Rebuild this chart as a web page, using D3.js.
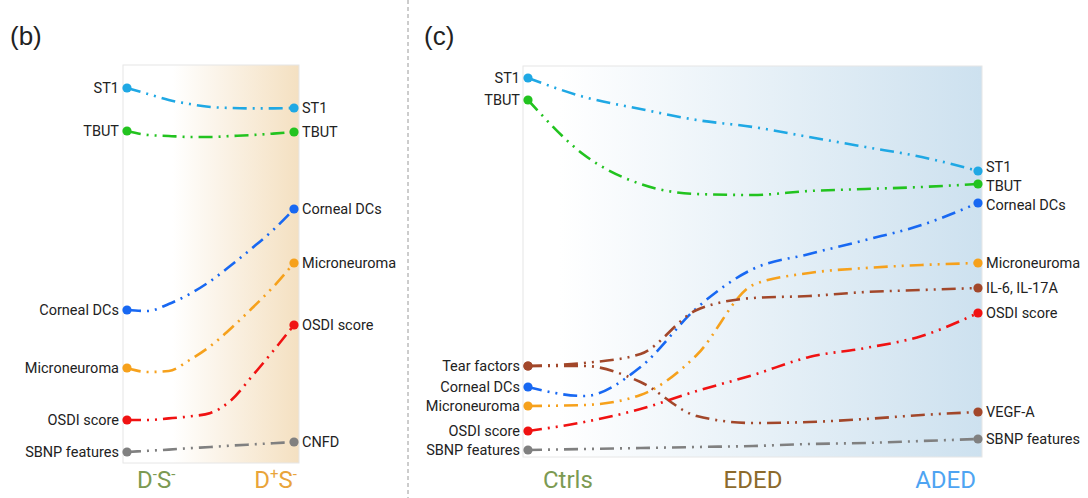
<!DOCTYPE html>
<html>
<head>
<meta charset="utf-8">
<script src="https://cdn.jsdelivr.net/npm/d3@7"></script>
<style>
  body { margin: 0; background: #fff; }
  svg { display: block; font-family: Roboto, "Liberation Sans", Arial, sans-serif; }
</style>
</head>
<body>
<div id="chart"></div>
<script>
// ---- data: relative level (0-100) ----

// panel (b): D-S- -> D+S-
const bSteps = [0, 0.125, 0.25, 0.375, 0.5, 0.625, 0.75, 0.875, 1];
const bStartLabels = ["ST1", "TBUT", "Corneal DCs", "Microneuroma", "OSDI score", "SBNP features"];
const bEndLabels = ["ST1", "TBUT", "Corneal DCs", "Microneuroma", "OSDI score", "CNFD"];
const bST1 = [95.5, 94, 92.5, 91.5, 90.75, 90.5, 90.4, 90.4, 90.5];
const bTBUT = [84.75, 83.75, 83.5, 83.25, 83.25, 83.5, 83.75, 84.1, 84.5];
const bCorneal = [40, 39.75, 41.5, 44, 47.25, 51.25, 55.5, 60, 65.25];
const bMicro = [25.5, 24.5, 24.75, 27.5, 31, 35.5, 40.5, 45.75, 51.75];
const bOSDI = [12.5, 12.5, 12.9, 13.4, 14.25, 17.5, 23.5, 29.75, 36.25];
const bSBNP = [4.5, 4.8, 5.1, 5.45, 5.75, 6.1, 6.4, 6.7, 7];

// panel (c): Ctrls -> EDED -> ADED
const cSteps = [0, 0.125, 0.25, 0.375, 0.5, 0.625, 0.75, 0.875, 1];
const cStartLabels = ["ST1", "TBUT", "Corneal DCs", "Microneuroma", "Tear factors", "", "OSDI score", "SBNP features"];
const cEndLabels = ["ST1", "TBUT", "Corneal DCs", "Microneuroma", "IL-6, IL-17A", "VEGF-A", "OSDI score", "SBNP features"];
const cST1 = [98, 93.25, 90.25, 87.5, 85.75, 83.25, 80.75, 78.25, 74.75];
const cTBUT = [92.5, 78.75, 71.5, 69, 68.75, 69.75, 70.25, 70.75, 71.5];
const cCorneal = [20.75, 18.5, 25.75, 40.5, 50.25, 54, 57.5, 61.25, 66.75];
const cMicro = [16, 16.25, 18.75, 28.75, 46.25, 49.25, 50.5, 51.25, 51.75];
const cIL6 = [26, 26.75, 29, 40, 43, 43.5, 44.5, 45, 45.5];
const cVEGF = [26, 26, 22, 13.5, 11.75, 12, 12.75, 13.75, 14.5];
const cOSDI = [9.75, 12, 15.25, 19.75, 23.75, 28.25, 30.5, 33.5, 39.25];
const cSBNP = [5, 5.25, 5.5, 5.75, 6, 6.5, 6.75, 7.25, 7.75];

const bColors = ["#1fa8e4", "#22c31f", "#1868f2", "#f6a11c", "#f01212", "#808080"];
const cColors = ["#1fa8e4", "#22c31f", "#1868f2", "#f6a11c", "#a2472a", "#a2472a", "#f01212", "#808080"];

// ---- layout ----
const width = 1088, height = 498;
const dash = "14,6,2,6,2,6";

const svg = d3.select("#chart").append("svg")
    .attr("width", width)
    .attr("height", height);

const defs = svg.append("defs");

function gradient(id, color, startAt) {
    const g = defs.append("linearGradient").attr("id", id)
        .attr("x1", "0%").attr("x2", "100%").attr("y1", "0%").attr("y2", "0%");
    g.append("stop").attr("offset", "0%").attr("stop-color", "#ffffff");
    g.append("stop").attr("offset", startAt).attr("stop-color", "#ffffff");
    g.append("stop").attr("offset", "100%").attr("stop-color", color);
}
gradient("gradB", "#f4e0c1", "28%");
gradient("gradC", "#cde1ef", "8%");

// shared vertical scale
const y = d3.scaleLinear().domain([0, 100]).range([470, 70]);

// separator
svg.append("line")
    .attr("x1", 408).attr("x2", 408).attr("y1", 0).attr("y2", height)
    .attr("stroke", "#9a9a9a").attr("stroke-width", 1).attr("stroke-dasharray", "4,3");

function panel(opt) {
    const x = d3.scaleLinear().domain([0, 1]).range(opt.xRange);
    const g = svg.append("g");

    g.append("text")
        .attr("x", opt.titleX).attr("y", 45)
        .attr("font-family", "'Liberation Sans', Arial, sans-serif")
        .attr("font-size", 26).attr("fill", "#222")
        .text(opt.title);

    g.append("rect")
        .attr("x", opt.rect[0]).attr("y", opt.rect[1])
        .attr("width", opt.rect[2] - opt.rect[0]).attr("height", opt.rect[3] - opt.rect[1])
        .attr("fill", `url(#${opt.grad})`)
        .attr("stroke", "#e6e6e6").attr("stroke-width", 1);

    const line = d3.line()
        .x((d, i) => x(opt.steps[i]))
        .y(d => y(d))
        .curve(d3.curveMonotoneX);

    opt.series.forEach((vals, k) => {
        g.append("path")
            .attr("d", line(vals))
            .attr("fill", "none")
            .attr("stroke", opt.colors[k])
            .attr("stroke-width", 2.6)
            .attr("stroke-dasharray", dash);
    });

    opt.series.forEach((vals, k) => {
        [0, vals.length - 1].forEach(i => {
            g.append("circle")
                .attr("cx", x(opt.steps[i])).attr("cy", y(vals[i]))
                .attr("r", 4.6).attr("fill", opt.colors[k]);
        });
        if (opt.startLabels[k]) {
            g.append("text")
                .attr("x", x(0) - 8).attr("y", y(vals[0]))
                .attr("dy", "0.35em").attr("text-anchor", "end")
                .attr("font-size", 14.5).attr("fill", "#222")
                .text(opt.startLabels[k]);
        }
        const nudge = (opt.endNudge && opt.endNudge[k]) || 0;
        g.append("text")
            .attr("x", x(1) + 8).attr("y", y(vals[vals.length - 1]) + nudge)
            .attr("dy", "0.35em")
            .attr("font-size", 14.5).attr("fill", "#222")
            .text(opt.endLabels[k]);
    });

    opt.stages.forEach(s => {
        const t = g.append("text")
            .attr("x", x(s.t) + s.dx).attr("y", 488)
            .attr("text-anchor", s.anchor)
            .attr("font-size", 24).attr("fill", s.color);
        let raised = false;
        s.parts.forEach(p => {
            const sup = !!p[1];
            const span = t.append("tspan").text(p[0]);
            if (sup) span.attr("font-size", 15);
            if (sup && !raised) span.attr("dy", -9);
            if (!sup && raised) span.attr("dy", 9);
            raised = sup;
        });
    });
}

panel({
    title: "(b)", titleX: 10,
    xRange: [127, 294],
    rect: [123, 65, 299, 463],
    grad: "gradB",
    steps: bSteps,
    series: [bST1, bTBUT, bCorneal, bMicro, bOSDI, bSBNP],
    colors: bColors,
    startLabels: bStartLabels,
    endLabels: bEndLabels,
    stages: [
        { t: 0, dx: 10, anchor: "start", color: "#7c9a52", parts: [["D"], ["-", 1], ["S"], ["-", 1]] },
        { t: 1, dx: 3, anchor: "end", color: "#e9a43a", parts: [["D"], ["+", 1], ["S"], ["-", 1]] }
    ]
});

panel({
    title: "(c)", titleX: 424,
    xRange: [528, 978],
    rect: [523, 66, 982, 457],
    grad: "gradC",
    steps: cSteps,
    series: [cST1, cTBUT, cCorneal, cMicro, cIL6, cVEGF, cOSDI, cSBNP],
    colors: cColors,
    startLabels: cStartLabels,
    endLabels: cEndLabels,
    endNudge: [-4, 2, 2],
    stages: [
        { t: 0, dx: 15, anchor: "start", color: "#7c9a52", parts: [["Ctrls"]] },
        { t: 0.5, dx: 0, anchor: "middle", color: "#8c6a2c", parts: [["EDED"]] },
        { t: 1, dx: -2, anchor: "end", color: "#4ea4f2", parts: [["ADED"]] }
    ]
});
</script>
</body>
</html>
